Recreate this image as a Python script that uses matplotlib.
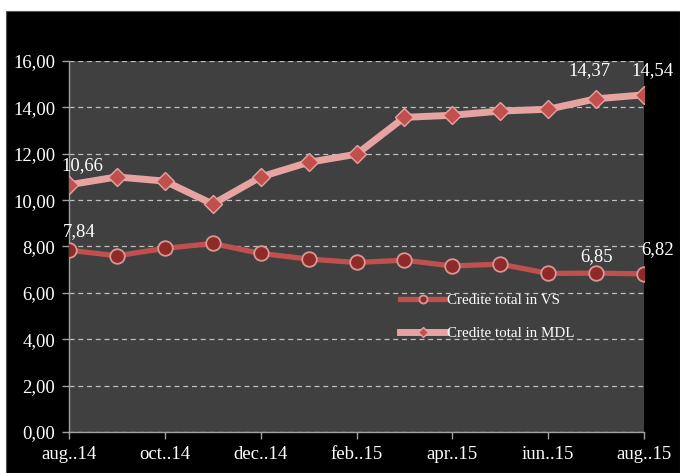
import matplotlib
matplotlib.use("Agg")
import matplotlib.pyplot as plt
from matplotlib.patches import Rectangle

months = ["aug..14", "sep..14", "oct..14", "nov..14", "dec..14", "ian..15", "feb..15",
          "mar..15", "apr..15", "mai..15", "iun..15", "iul..15", "aug..15"]
vs_values = [7.84, 7.60, 7.92, 8.13, 7.70, 7.46, 7.31, 7.41, 7.16, 7.24, 6.84, 6.85, 6.82]
mdl_values = [10.66, 11.00, 10.82, 9.83, 11.00, 11.63, 11.98, 13.57, 13.66, 13.84, 13.92, 14.37, 14.54]
y_ticks = [0, 2, 4, 6, 8, 10, 12, 14, 16]
labeled_vs = {0: "7,84", 11: "6,85", 12: "6,82"}
labeled_mdl = {0: "10,66", 11: "14,37", 12: "14,54"}
# label offsets in pixels (style only)
off_vs = {0: (10, 19), 11: (0, 17), 12: (14, 24)}
off_mdl = {0: (13, 19), 11: (-7, 28), 12: (8, 24)}

plt.rcParams['font.family'] = ['Liberation Serif', 'DejaVu Serif']

W, H = 680, 473
fig = plt.figure(figsize=(W / 100, H / 100), dpi=100, facecolor="white")
fig.patches.append(Rectangle((6 / W, 0), 1 - 6 / W, 1 - 11 / H, transform=fig.transFigure,
                             facecolor="black", edgecolor="#555555", lw=0.8, zorder=-10))

ax = fig.add_axes([69 / W, 1 - 432 / H, (644 - 69) / W, (432 - 61) / H])
ax.set_facecolor("#404040")

x = list(range(len(months)))
ax.plot(x, vs_values, color="#c0504d", lw=3.8, marker="o", markersize=10.5,
        markerfacecolor="#8e2a28", markeredgecolor="#d99694", markeredgewidth=1.3,
        solid_joinstyle="round", label="Credite total in VS", zorder=3)
ax.plot(x, mdl_values, color="#e6a3a1", lw=5, marker="D", markersize=9,
        markerfacecolor="#c0504d", markeredgecolor="#e6a3a1", markeredgewidth=1.0,
        solid_joinstyle="round", label="Credite total in MDL", zorder=3)

for i, t in labeled_vs.items():
    ax.annotate(t, (x[i], vs_values[i]), xytext=off_vs[i], textcoords="offset pixels",
                ha="center", va="center", color="white", fontsize=13.5, zorder=5,
                annotation_clip=False)
for i, t in labeled_mdl.items():
    ax.annotate(t, (x[i], mdl_values[i]), xytext=off_mdl[i], textcoords="offset pixels",
                ha="center", va="center", color="white", fontsize=13.5, zorder=5,
                annotation_clip=False)

ax.set_xlim(0, len(months) - 1)
ax.set_ylim(0, 16)
ax.set_yticks(y_ticks)
ax.set_yticklabels([f"{v:.2f}".replace(".", ",") for v in y_ticks])
ax.set_xticks(x[::2])
ax.set_xticklabels(months[::2])
ax.tick_params(colors="white", labelsize=13.5, direction="out", length=5, width=1)
ax.tick_params(axis="both", color="#a0a0a0")
ax.tick_params(axis="x", pad=5)
ax.tick_params(axis="y", pad=5)
ax.grid(axis="y", color="#bfbfbf", linestyle=(0, (4, 3)), lw=0.9)
ax.set_axisbelow(True)
for s in ["top", "right"]:
    ax.spines[s].set_visible(False)
for s in ["left", "bottom"]:
    ax.spines[s].set_color("#a0a0a0")
    ax.spines[s].set_linewidth(1)

leg = ax.legend(loc="upper left", bbox_to_anchor=(0.565, 0.39), frameon=False,
                fontsize=10.8, labelcolor="white", handlelength=3.1, handletextpad=0.05,
                labelspacing=1.3, markerscale=0.55, borderaxespad=0)

fig.savefig("out.png", dpi=100, facecolor="white")
